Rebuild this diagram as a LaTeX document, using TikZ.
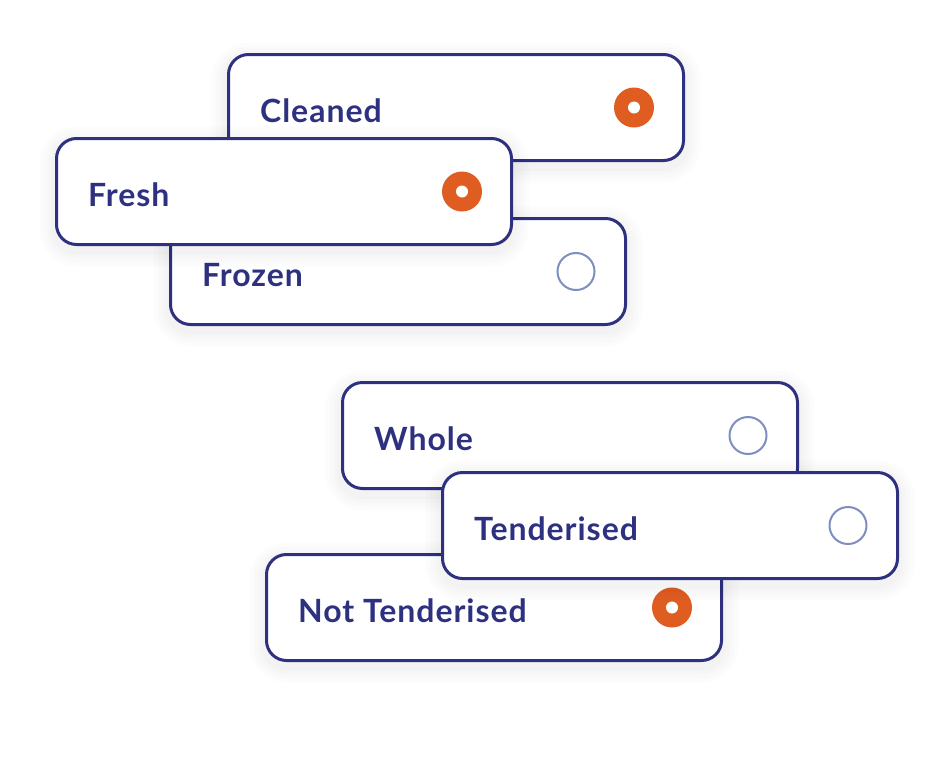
\documentclass[tikz,border=0pt]{standalone}
\usepackage{fontspec}
\setmainfont{Lato}[LetterSpace=3]
\definecolor{navy}{HTML}{2D3180}
\definecolor{radioOn}{HTML}{E05D22}
\definecolor{radioOff}{HTML}{7F8EC0}
\tikzset{
  shadowlayer/.style={preaction={draw=black, draw opacity=0.012, line width=#1,
      transform canvas={yshift=-5pt}}},
  card/.style={draw=navy, line width=3pt, fill=white, rounded corners=20pt,
    minimum width=455pt, minimum height=106pt, inner sep=0pt,
    shadowlayer=34pt, shadowlayer=26pt, shadowlayer=18pt, shadowlayer=11pt},
  cardtext/.style={anchor=base west, inner sep=0pt, text=navy,
    font=\fontsize{32}{38}\selectfont\bfseries},
  radioon/.style={circle, fill=radioOn, draw=none, minimum size=40pt, inner sep=0pt,
    path picture={\fill[white] (path picture bounding box.center) circle (6pt);}},
  radiooff/.style={circle, draw=radioOff, line width=2pt, fill=white, minimum size=37pt, inner sep=0pt}
}
\begin{document}
\begin{tikzpicture}[x=1pt,y=-1pt]
\useasboundingbox[fill=white] (0,0) rectangle (952,758);
% group 1
\node[card] (cleaned) at (456,107.5) {};
\node[cardtext] (cleanedT) at (260,122) {Cleaned};
\node[radioon] (cleanedR) at (634,107.5) {};
\node[card] (frozen) at (398,271.5) {};
\node[cardtext] (frozenT) at (202,286) {Frozen};
\node[radiooff] (frozenR) at (576,271.5) {};
\node[card] (fresh) at (284,191.5) {};
\node[cardtext] (freshT) at (88,206) {Fresh};
\node[radioon] (freshR) at (462,191.5) {};
% group 2
\node[card] (whole) at (570,435.5) {};
\node[cardtext] (wholeT) at (374,450) {Whole};
\node[radiooff] (wholeR) at (748,435.5) {};
\node[card] (nottend) at (494,607.5) {};
\node[cardtext] (nottendT) at (298,622) {Not Tenderised};
\node[radioon] (nottendR) at (672,607.5) {};
\node[card] (tend) at (670,525.5) {};
\node[cardtext] (tendT) at (474,540) {Tenderised};
\node[radiooff] (tendR) at (848,525.5) {};
\end{tikzpicture}
\end{document}
